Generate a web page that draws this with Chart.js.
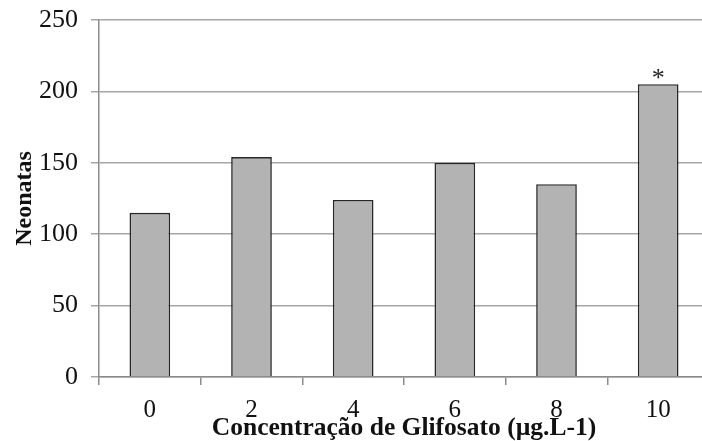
<!DOCTYPE html>
<html>
<head>
<meta charset="utf-8">
<script src="https://cdn.jsdelivr.net/npm/chart.js@4.4.1/dist/chart.umd.min.js"></script>
<style>
  html, body { margin: 0; padding: 0; background: #fff; overflow: hidden; }
  #wrap { width: 712px; height: 441px; }
</style>
</head>
<body>
<div id="wrap"><canvas id="c" width="712" height="441"></canvas></div>
<script>
// Glyphosate concentration (µg.L-1) and neonate counts
const concentrations = ['0', '2', '4', '6', '8', '10'];
const neonates = [115, 154, 124, 150, 135, 205];
const significance = ['', '', '', '', '', '*'];
const yTicks = [0, 50, 100, 150, 200, 250];

const serif = '"Liberation Serif", "Times New Roman", serif';

// Marks significant groups with an asterisk above the bar
const starPlugin = {
  id: 'starPlugin',
  afterDatasetsDraw(chart) {
    const ctx = chart.ctx;
    const meta = chart.getDatasetMeta(0);
    ctx.save();
    ctx.font = '26px ' + serif;
    ctx.fillStyle = '#222';
    ctx.textAlign = 'center';
    ctx.textBaseline = 'alphabetic';
    meta.data.forEach((bar, i) => {
      if (significance[i]) ctx.fillText(significance[i], bar.x, bar.y + 2);
    });
    ctx.restore();
  }
};

new Chart(document.getElementById('c'), {
  type: 'bar',
  data: {
    labels: concentrations,
    datasets: [{
      data: neonates,
      backgroundColor: '#b3b3b3',
      borderColor: '#262626',
      borderWidth: 1.6,
      barPercentage: 0.4,
      categoryPercentage: 1.0
    }]
  },
  options: {
    responsive: false,
    animation: false,
    layout: { padding: { top: 20, right: 3, left: 0, bottom: 0 } },
    plugins: { legend: { display: false }, tooltip: { enabled: false } },
    scales: {
      x: {
        grid: { display: true, drawOnChartArea: false, drawTicks: true, tickLength: 8, color: '#8c8c8c', lineWidth: 1.5 },
        border: { display: true, color: '#8c8c8c', width: 1.5 },
        ticks: { color: '#111', padding: 10, font: { family: serif, size: 25 } },
        title: {
          display: true,
          text: 'Concentração de Glifosato (µg.L-1)',
          color: '#111',
          font: { family: serif, size: 25.5, weight: 'bold', lineHeight: 1.0 },
          padding: { top: 0, bottom: 0 }
        },
        afterFit(scale) { scale.height = 64; }
      },
      y: {
        min: 0,
        max: 250,
        afterBuildTicks(scale) { scale.ticks = yTicks.map(v => ({ value: v })); },
        grid: { color: '#a6a6a6', lineWidth: 1.5, tickLength: 8 },
        border: { display: true, color: '#8c8c8c', width: 1.5 },
        ticks: { color: '#111', padding: 13, font: { family: serif, size: 26 } },
        title: {
          display: true,
          text: 'Neonatas',
          color: '#111',
          font: { family: serif, size: 24, weight: 'bold' },
          padding: { top: 10, bottom: 0 }
        },
        afterFit(scale) {
          scale.width = 99;
          scale.paddingTop = 0;
          scale.paddingBottom = 0;
        }
      }
    }
  },
  plugins: [starPlugin]
});
</script>
</body>
</html>
